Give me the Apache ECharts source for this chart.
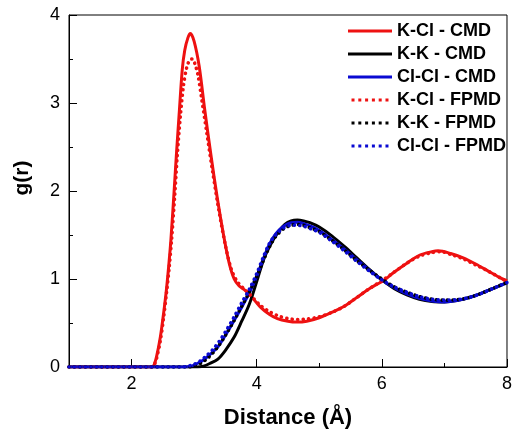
<!DOCTYPE html>
<html>
<head>
<meta charset="utf-8">
<script src="https://cdn.jsdelivr.net/npm/echarts@6/dist/echarts.min.js"></script>
<style>
html,body{margin:0;padding:0;background:#fff;}
#chart{width:515px;height:434px;}
</style>
</head>
<body>
<div id="chart"></div>
<script>
// Series names
const seriesNames = ['K-Cl - CMD', 'K-K - CMD', 'Cl-Cl - CMD', 'K-Cl - FPMD', 'K-K - FPMD', 'Cl-Cl - FPMD'];
// Axis ticks
const xTicks = [2, 4, 6, 8];
const yTicks = [0, 1, 2, 3, 4];

// Data: [r (Å), g(r)]
const kclCmd = [[1,0],[2.3,0],[2.35,0.01],[2.4,0.12],[2.46,0.34],[2.51,0.6],[2.56,0.9],[2.6,1.2],[2.63,1.46],[2.68,2.0],[2.72,2.45],[2.76,2.87],[2.81,3.38],[2.85,3.6],[2.9,3.74],[2.94,3.79],[3.0,3.7],[3.08,3.42],[3.17,2.92],[3.27,2.4],[3.37,1.92],[3.47,1.5],[3.56,1.18],[3.64,1.0],[3.72,0.92],[3.8,0.88],[3.88,0.83],[4.06,0.68],[4.2,0.6],[4.33,0.55],[4.5,0.52],[4.64,0.51],[4.8,0.52],[5.0,0.56],[5.2,0.62],[5.4,0.69],[5.6,0.79],[5.8,0.89],[6.04,0.99],[6.2,1.08],[6.4,1.18],[6.6,1.27],[6.8,1.31],[6.9,1.32],[7.1,1.29],[7.3,1.24],[7.5,1.17],[7.7,1.09],[7.9,1.01],[8.0,0.98]];
const kkCmd = [[1,0],[3.05,0],[3.15,0.01],[3.25,0.04],[3.38,0.09],[3.5,0.19],[3.64,0.34],[3.76,0.52],[3.88,0.71],[4.0,0.97],[4.12,1.24],[4.25,1.43],[4.35,1.54],[4.45,1.62],[4.55,1.66],[4.65,1.67],[4.75,1.66],[4.85,1.64],[5.0,1.59],[5.2,1.49],[5.4,1.37],[5.6,1.24],[5.8,1.11],[6.0,0.99],[6.2,0.89],[6.4,0.82],[6.6,0.77],[6.8,0.745],[7.0,0.74],[7.2,0.755],[7.4,0.79],[7.6,0.84],[7.8,0.9],[8.0,0.96]];
const clclCmd = [[1,0],[2.85,0],[2.95,0.01],[3.05,0.04],[3.15,0.08],[3.25,0.14],[3.38,0.23],[3.5,0.36],[3.64,0.53],[3.76,0.68],[3.88,0.84],[4.0,1.03],[4.1,1.22],[4.2,1.39],[4.3,1.51],[4.43,1.6],[4.55,1.64],[4.65,1.645],[4.75,1.63],[4.9,1.59],[5.0,1.55],[5.2,1.45],[5.4,1.34],[5.6,1.22],[5.8,1.1],[6.0,0.99],[6.2,0.9],[6.4,0.83],[6.6,0.78],[6.8,0.75],[7.0,0.74],[7.2,0.755],[7.4,0.79],[7.6,0.84],[7.8,0.9],[8.0,0.96]];
const kclFpmd = [[1,0],[2.3,0],[2.35,0.01],[2.4,0.1],[2.46,0.3],[2.51,0.55],[2.56,0.85],[2.6,1.12],[2.64,1.45],[2.69,1.95],[2.73,2.4],[2.78,2.85],[2.83,3.2],[2.88,3.4],[2.93,3.49],[2.97,3.5],[3.01,3.45],[3.06,3.32],[3.12,3.05],[3.2,2.67],[3.3,2.2],[3.4,1.76],[3.5,1.38],[3.59,1.12],[3.68,0.98],[3.78,0.9],[3.88,0.83],[4.06,0.7],[4.2,0.63],[4.35,0.58],[4.5,0.55],[4.65,0.54],[4.8,0.545],[5.0,0.57],[5.2,0.62],[5.4,0.69],[5.6,0.79],[5.8,0.89],[6.0,0.98],[6.2,1.08],[6.4,1.18],[6.6,1.26],[6.8,1.3],[6.95,1.31],[7.1,1.28],[7.3,1.23],[7.5,1.16],[7.7,1.09],[7.9,1.01],[8.0,0.97]];
const kkFpmd = [[1,0],[2.9,0],[3.0,0.01],[3.1,0.04],[3.2,0.09],[3.3,0.16],[3.4,0.25],[3.5,0.36],[3.64,0.53],[3.76,0.69],[3.88,0.85],[4.0,1.03],[4.1,1.2],[4.2,1.36],[4.3,1.48],[4.43,1.57],[4.55,1.61],[4.65,1.62],[4.75,1.61],[4.9,1.57],[5.0,1.54],[5.2,1.44],[5.4,1.33],[5.6,1.21],[5.8,1.1],[6.0,1.0],[6.2,0.91],[6.4,0.85],[6.6,0.8],[6.8,0.77],[7.0,0.76],[7.2,0.765],[7.4,0.79],[7.6,0.84],[7.8,0.9],[8.0,0.96]];
const clclFpmd = [[1,0],[2.8,0],[2.9,0.01],[3.0,0.03],[3.1,0.07],[3.2,0.13],[3.3,0.2],[3.4,0.29],[3.5,0.4],[3.64,0.57],[3.76,0.73],[3.88,0.88],[4.0,1.06],[4.1,1.24],[4.2,1.4],[4.3,1.5],[4.43,1.58],[4.55,1.61],[4.65,1.61],[4.75,1.6],[4.9,1.56],[5.0,1.53],[5.2,1.43],[5.4,1.32],[5.6,1.2],[5.8,1.09],[6.0,0.99],[6.2,0.91],[6.4,0.85],[6.6,0.8],[6.8,0.77],[7.0,0.76],[7.2,0.765],[7.4,0.79],[7.6,0.84],[7.8,0.9],[8.0,0.96]];

const RED = '#ee1111', BLACK = '#000000', BLUE = '#0a0ad2';
const FONT = '"Liberation Sans", Arial, sans-serif';
const SOLID_ICON = 'rect';
const DOT_ICON = 'path://M0,0h3.4v3.4h-3.4Z M7.7,0h3.4v3.4h-3.4Z M15.4,0h3.4v3.4h-3.4Z M23.1,0h3.4v3.4h-3.4Z M30.8,0h3.4v3.4h-3.4Z M38.5,0h3.4v3.4h-3.4Z';

function mk(name, data, color, dotted) {
  return {
    name: name, type: 'line', data: data, symbol: 'none', smooth: 0.3,
    xAxisIndex: 0, yAxisIndex: 0,
    lineStyle: dotted ? {color: color, width: 3.6, type: [0.1, 5.4], cap: 'round'} : {color: color, width: 3},
    itemStyle: {color: color},
    emphasis: {disabled: true}
  };
}

const chart = echarts.init(document.getElementById('chart'), null, {renderer: 'canvas'});
chart.setOption({
  animation: false,
  backgroundColor: '#fff',
  grid: {left: 69, right: 3, top: 15, bottom: 64, show: true, borderColor: '#000', borderWidth: 1, backgroundColor: 'transparent'},
  legend: {
    orient: 'vertical', left: 343, top: 17, itemWidth: 44, itemHeight: 3, itemGap: 5.0,
    data: seriesNames.map((n, i) => ({name: n, icon: i < 3 ? SOLID_ICON : DOT_ICON})),
    textStyle: {fontFamily: FONT, fontWeight: 'bold', fontSize: 18, color: '#000'},
    inactiveColor: '#000'
  },
  xAxis: [{
    type: 'value', min: 1, max: 8, interval: 1, position: 'bottom',
    name: 'Distance (Å)', nameLocation: 'middle', nameGap: 40,
    nameTextStyle: {fontFamily: FONT, fontWeight: 'bold', fontSize: 22, color: '#000'},
    axisLine: {show: true, onZero: false, lineStyle: {color: '#000', width: 1}},
    axisTick: {show: true, inside: true, length: 4, lineStyle: {color: '#000', width: 1}},
    axisLabel: {margin: 8, fontFamily: FONT, fontSize: 18, color: '#000',
      formatter: v => xTicks.indexOf(v) >= 0 ? String(v) : ''},
    splitLine: {show: false}
  }, {
    type: 'value', min: 0, max: 7, interval: 2, inverse: true, position: 'bottom',
    axisLine: {show: false, onZero: false}, axisLabel: {show: false},
    axisTick: {show: true, inside: true, length: 8, lineStyle: {color: '#000', width: 1}},
    splitLine: {show: false}
  }],
  yAxis: {
    type: 'value', min: 0, max: 4, interval: 1,
    name: 'g(r)', nameLocation: 'middle', nameGap: 36,
    nameTextStyle: {fontFamily: FONT, fontWeight: 'bold', fontSize: 21, color: '#000', padding: [0, 0, 0, 26]},
    axisLine: {show: true, onZero: false, lineStyle: {color: '#000', width: 1}},
    axisTick: {show: true, inside: true, length: 8, lineStyle: {color: '#000', width: 1}},
    minorTick: {show: true, splitNumber: 2, length: 4, lineStyle: {color: '#000', width: 1}},
    axisLabel: {margin: 9, fontFamily: FONT, fontSize: 18, color: '#000',
      formatter: v => yTicks.indexOf(v) >= 0 ? String(v) : ''},
    splitLine: {show: false}
  },
  series: [
    mk(seriesNames[0], kclCmd, RED, false),
    mk(seriesNames[1], kkCmd, BLACK, false),
    mk(seriesNames[2], clclCmd, BLUE, false),
    mk(seriesNames[3], kclFpmd, RED, true),
    mk(seriesNames[4], kkFpmd, BLACK, true),
    mk(seriesNames[5], clclFpmd, BLUE, true)
  ]
});
</script>
</body>
</html>
